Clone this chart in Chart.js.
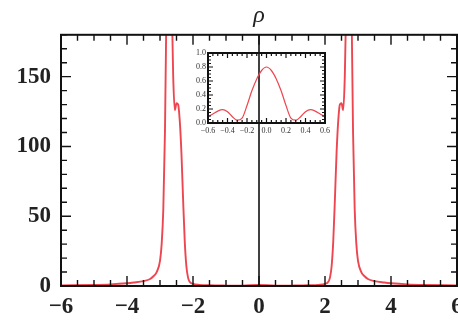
<!DOCTYPE html>
<html>
<head>
<meta charset="utf-8">
<script src="https://cdn.jsdelivr.net/npm/chart.js@4"></script>
<style>
  body { margin: 0; background: #fff; }
  #wrap { position: relative; width: 458px; height: 329px; }
  #main { position: absolute; left: 0; top: 0; }
  #inset { position: absolute; left: 178px; top: 45px; }
</style>
</head>
<body>
<div id="wrap">
  <canvas id="main" width="458" height="329"></canvas>
  <canvas id="inset" width="157" height="95"></canvas>
</div>
<script>
// main plot: rho(x)
const rhoX = [-6, -5, -4.5, -4, -3.8, -3.5, -3.3, -3.2, -3.1, -3.0, -2.95, -2.9, -2.85, -2.8, -2.75, -2.7,
  -2.65, -2.6, -2.55, -2.5, -2.45, -2.4, -2.35, -2.3, -2.25, -2.2, -2.15, -2.1, -2.0, -1.8, -1.5, -1.0, -0.5,
  0, 0.5, 1.0, 1.5, 1.8, 2.0, 2.1, 2.15, 2.2, 2.25, 2.3, 2.35, 2.4, 2.45, 2.5, 2.55, 2.6, 2.65,
  2.7, 2.75, 2.8, 2.85, 2.9, 2.95, 3.0, 3.1, 3.2, 3.3, 3.5, 3.8, 4.0, 4.5, 5, 6];
const rhoY = [0.4, 0.8, 1.2, 2, 2.5, 3.5, 5, 7, 10, 18, 30, 55, 110, 210, 300, 300,
  210, 150, 126, 131, 130, 118, 95, 62, 32, 14, 6, 3, 1.5, 0.8, 0.5, 0.3, 0.2,
  0.8, 0.2, 0.3, 0.5, 0.8, 1.5, 3, 6, 14, 32, 62, 95, 118, 130, 131, 126, 150, 210,
  300, 300, 210, 110, 55, 30, 18, 10, 7, 5, 3.5, 2.5, 2, 1.2, 0.8, 0.4];
const xTickValues = [-6, -4, -2, 0, 2, 4, 6];
const yTickValues = [0, 50, 100, 150];

// inset: zoom near x = 0
const insetX = [-0.6, -0.55, -0.5, -0.45, -0.4, -0.35, -0.3, -0.25, -0.2, -0.15, -0.1, -0.05, 0,
  0.05, 0.1, 0.15, 0.2, 0.25, 0.3, 0.35, 0.4, 0.45, 0.5, 0.55, 0.6];
const insetY = [0.09, 0.13, 0.17, 0.19, 0.16, 0.09, 0.04, 0.07, 0.25, 0.46, 0.63, 0.75, 0.8,
  0.75, 0.63, 0.46, 0.25, 0.07, 0.04, 0.09, 0.16, 0.19, 0.17, 0.13, 0.09];
const insetXTicks = [-0.6, -0.4, -0.2, 0, 0.2, 0.4, 0.6];
const insetYTicks = [0, 0.2, 0.4, 0.6, 0.8, 1.0];

const red = 'rgb(238,70,80)';
const minus = v => (v < 0 ? '\u2212' + Math.abs(v) : '' + v);

// box frame with inward ticks on all four sides
const frame = {
  id: 'frame',
  afterDatasetsDraw(chart, args, o) {
    const { ctx, chartArea: a, scales: { x, y } } = chart;
    ctx.save();
    ctx.strokeStyle = '#111';
    ctx.lineWidth = o.tickWidth;
    const run = (scale, step, major, draw) => {
      const n = Math.round((scale.max - scale.min) / step);
      for (let i = 0; i <= n; i++) {
        const v = scale.min + i * step;
        const isMajor = Math.abs(v / major - Math.round(v / major)) < 1e-6;
        draw(scale.getPixelForValue(v), isMajor ? o.majorLen : o.minorLen);
      }
    };
    ctx.beginPath();
    run(x, o.xMinor, o.xMajor, (p, len) => {
      ctx.moveTo(p, a.bottom); ctx.lineTo(p, a.bottom - len);
      ctx.moveTo(p, a.top); ctx.lineTo(p, a.top + len);
    });
    run(y, o.yMinor, o.yMajor, (p, len) => {
      ctx.moveTo(a.left, p); ctx.lineTo(a.left + len, p);
      ctx.moveTo(a.right, p); ctx.lineTo(a.right - len, p);
    });
    ctx.stroke();
    if (o.zeroLine) {
      const z = x.getPixelForValue(0);
      ctx.lineWidth = 1.6;
      ctx.beginPath();
      ctx.moveTo(z, a.top); ctx.lineTo(z, a.bottom);
      ctx.stroke();
    }
    ctx.lineWidth = o.borderWidth;
    ctx.strokeRect(a.left, a.top, a.right - a.left, a.bottom - a.top);
    ctx.restore();
  }
};

const noPad = s => { s.paddingLeft = 0; s.paddingRight = 0; s.paddingTop = 0; s.paddingBottom = 0; };

new Chart(document.getElementById('main'), {
  type: 'line',
  data: {
    datasets: [{
      data: rhoX.map((v, i) => ({ x: v, y: rhoY[i] })),
      borderColor: red,
      borderWidth: 1.9,
      pointRadius: 0,
      cubicInterpolationMode: 'monotone'
    }]
  },
  options: {
    responsive: false,
    animation: false,
    events: [],
    layout: { padding: { top: 0, right: 1, left: 0, bottom: 0 } },
    scales: {
      x: {
        type: 'linear', min: -6, max: 6,
        grid: { display: false, drawTicks: false },
        border: { display: false },
        afterBuildTicks: s => { s.ticks = xTickValues.map(v => ({ value: v })); },
        afterFit: s => { s.height = 43; noPad(s); },
        ticks: {
          autoSkip: false, maxRotation: 0, padding: 7,
          color: '#222',
          font: { family: 'Liberation Serif', weight: 'bold', size: 23 },
          callback: v => minus(v)
        }
      },
      y: {
        min: 0, max: 180,
        grid: { display: false, drawTicks: false },
        border: { display: false },
        afterBuildTicks: s => { s.ticks = yTickValues.map(v => ({ value: v })); },
        afterFit: s => { s.width = 61; noPad(s); },
        ticks: {
          padding: 10,
          color: '#222',
          font: { family: 'Liberation Serif', weight: 'bold', size: 23 }
        }
      }
    },
    plugins: {
      legend: { display: false },
      tooltip: { enabled: false },
      title: {
        display: true, text: 'ρ', fullSize: false, color: '#222',
        font: { family: 'Liberation Serif', style: 'italic', size: 24, weight: 'normal' },
        padding: { top: 1, bottom: 5 }
      },
      frame: { xMinor: 0.5, xMajor: 2, yMinor: 10, yMajor: 50, minorLen: 6, majorLen: 10,
        tickWidth: 1.4, borderWidth: 2, zeroLine: true }
    }
  },
  plugins: [frame]
});

new Chart(document.getElementById('inset'), {
  type: 'line',
  data: {
    datasets: [{
      data: insetX.map((v, i) => ({ x: v, y: insetY[i] })),
      borderColor: red,
      borderWidth: 1.2,
      pointRadius: 0,
      cubicInterpolationMode: 'monotone'
    }]
  },
  options: {
    responsive: false,
    animation: false,
    events: [],
    layout: { padding: { top: 8, right: 10, left: 0, bottom: 0 } },
    scales: {
      x: {
        type: 'linear', min: -0.6, max: 0.6,
        grid: { display: false, drawTicks: false },
        border: { display: false },
        afterBuildTicks: s => { s.ticks = insetXTicks.map(v => ({ value: v })); },
        afterFit: s => { s.height = 17; noPad(s); },
        ticks: {
          autoSkip: false, maxRotation: 0, padding: 3,
          color: '#333',
          font: { family: 'Liberation Serif', size: 8 },
          callback: v => (v < 0 ? '\u2212' : '') + Math.abs(v).toFixed(1)
        }
      },
      y: {
        min: 0, max: 1,
        grid: { display: false, drawTicks: false },
        border: { display: false },
        afterBuildTicks: s => { s.ticks = insetYTicks.map(v => ({ value: v })); },
        afterFit: s => { s.width = 30; noPad(s); },
        ticks: {
          padding: 2,
          color: '#333',
          font: { family: 'Liberation Serif', size: 8 },
          callback: v => v.toFixed(1)
        }
      }
    },
    plugins: {
      legend: { display: false },
      tooltip: { enabled: false },
      frame: { xMinor: 0.05, xMajor: 0.2, yMinor: 0.05, yMajor: 0.2, minorLen: 3, majorLen: 5,
        tickWidth: 1.2, borderWidth: 2, zeroLine: false }
    }
  },
  plugins: [frame]
});
</script>
</body>
</html>
